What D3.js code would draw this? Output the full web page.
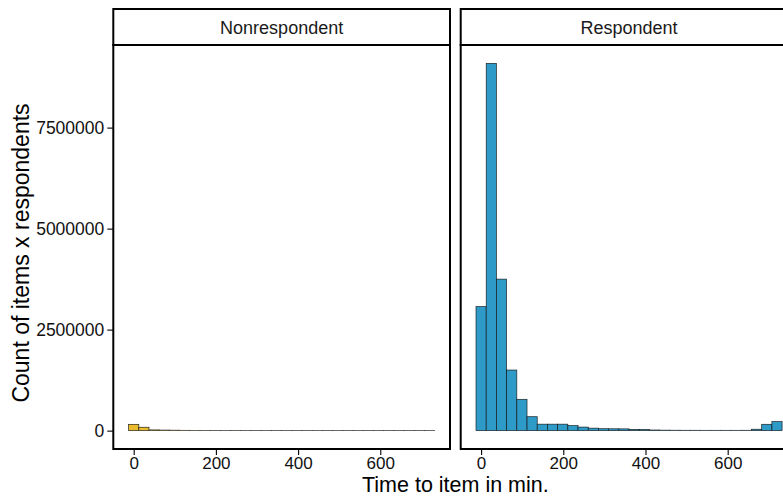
<!DOCTYPE html>
<html>
<head>
<meta charset="utf-8">
<script src="https://cdn.jsdelivr.net/npm/d3@7"></script>
<style>
  body { margin: 0; overflow: hidden; background: #fff; }
  text { font-family: "Liberation Sans", Arial, sans-serif; }
</style>
</head>
<body>
<div id="chart"></div>
<script>

// facet groups and their fills
var groups = ["Nonrespondent", "Respondent"];
var fills = ["#E8BA2C", "#2E9AC8"];

// histogram: 30 bins, centres from 0 to 720 min
var maxTime = 720;
var nBins = 30;

// counts per bin (items x respondents)
var nonrespondent = [156000, 84000, 18000, 14000, 11000, 8000, 4000, 3000, 3000, 2500,
                     2500, 2000, 2000, 2000, 2000, 2000, 1500, 1500, 1500, 1500,
                     1000, 1000, 1000, 1000, 1000, 1000, 1000, 1000, 1000, 1000];
var respondent = [3070000, 9090000, 3750000, 1500000, 775000, 345000, 160000, 160000, 160000, 124000,
                  88000, 62000, 48000, 46000, 44000, 32000, 30000, 16000, 12000, 10000,
                  9000, 9000, 8000, 8000, 8000, 8000, 9000, 35000, 157000, 223000];

var xTicks = [0, 200, 400, 600];
var yTicks = [0, 2500000, 5000000, 7500000];

var series = [nonrespondent, respondent];

// dimensions
var W = 783, H = 496;
var left = 113.3, panelW = 336.7, gap = 10.7;
var stripTop = 9, stripH = 36, panelBottom = 449;
var panelTop = stripTop + stripH;

var svg = d3.select("#chart")
  .append("svg")
    .attr("width", W)
    .attr("height", H);

var bw = maxTime / (nBins - 1);
var lo = -bw / 2, hi = maxTime + bw / 2;
var padX = (hi - lo) * 0.05;

var yMax = d3.max(respondent);
var y = d3.scaleLinear()
  .domain([-yMax * 0.05, yMax * 1.05])
  .range([panelBottom, panelTop]);

// y axis (shared, left side only)
var yAxis = svg.append("g")
  .attr("transform", "translate(" + left + ",0)")
  .call(d3.axisLeft(y).tickValues(yTicks).tickFormat(d3.format("d")).tickSize(6).tickPadding(3));
yAxis.select(".domain").remove();
yAxis.selectAll("line").attr("stroke", "#000").attr("stroke-width", 1.1);
yAxis.selectAll("text").attr("font-size", 17.5).attr("fill", "#111");

groups.forEach(function(name, gi) {
  var x0 = left + gi * (panelW + gap);
  var x = d3.scaleLinear()
    .domain([lo - padX, hi + padX])
    .range([x0, x0 + panelW]);

  var data = series[gi].map(function(v, i) { return {mid: i * bw, n: v}; });

  svg.append("g").selectAll("rect")
    .data(data)
    .enter()
    .append("rect")
      .attr("x", function(d) { return x(d.mid - bw / 2); })
      .attr("width", function(d) { return x(d.mid + bw / 2) - x(d.mid - bw / 2); })
      .attr("y", function(d) { return y(d.n); })
      .attr("height", function(d) { return y(0) - y(d.n); })
      .attr("fill", fills[gi])
      .attr("stroke", "#111")
      .attr("stroke-opacity", 0.9)
      .attr("stroke-width", 0.7);

  // panel border
  svg.append("rect")
    .attr("x", x0).attr("y", panelTop)
    .attr("width", panelW).attr("height", panelBottom - panelTop)
    .attr("fill", "none").attr("stroke", "#000").attr("stroke-width", 2);

  // strip
  svg.append("rect")
    .attr("x", x0).attr("y", stripTop)
    .attr("width", panelW).attr("height", stripH)
    .attr("fill", "#fff").attr("stroke", "#000").attr("stroke-width", 2);
  svg.append("text")
    .attr("x", x0 + panelW / 2)
    .attr("y", stripTop + stripH / 2 + 6.5)
    .attr("text-anchor", "middle")
    .attr("font-size", 18)
    .attr("fill", "#1a1a1a")
    .text(name);

  // x axis
  var xAxis = svg.append("g")
    .attr("transform", "translate(0," + panelBottom + ")")
    .call(d3.axisBottom(x).tickValues(xTicks).tickSize(6).tickPadding(1.5));
  xAxis.select(".domain").remove();
  xAxis.selectAll("line").attr("stroke", "#000").attr("stroke-width", 1.1);
  xAxis.selectAll("text").attr("font-size", 17).attr("fill", "#111");
});

// axis titles
svg.append("text")
  .attr("x", left + (2 * panelW + gap) / 2)
  .attr("y", 491.5)
  .attr("text-anchor", "middle")
  .attr("font-size", 21.5)
  .attr("fill", "#000")
  .text("Time to item in min.");

svg.append("text")
  .attr("transform", "translate(29,253) rotate(-90)")
  .attr("text-anchor", "middle")
  .attr("font-size", 23)
  .attr("fill", "#000")
  .text("Count of items x respondents");

</script>
</body>
</html>
